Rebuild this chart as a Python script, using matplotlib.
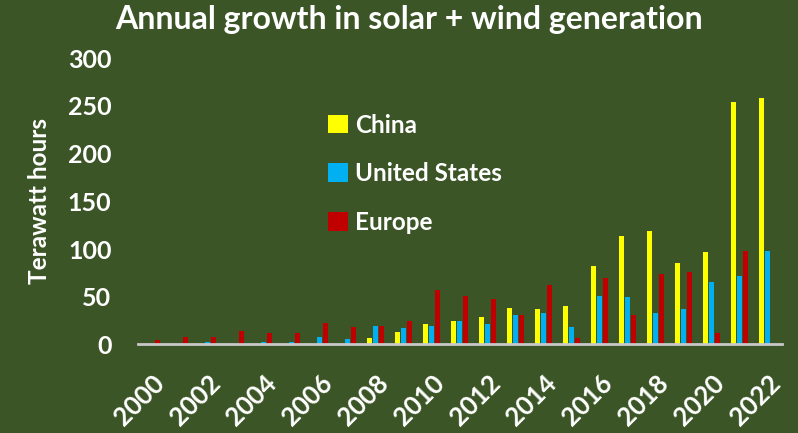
import numpy as np
import matplotlib.pyplot as plt

# annual growth in solar + wind generation, TWh
years = list(range(2000, 2023))
china = [0, 0, 0, 0, 0, 0, 0, 0, 6.5, 13, 21, 25, 29, 38, 37, 40,
         82, 114, 119, 85, 97, 254, 258]
usa = [0, 0, 2.6, 0, 2.6, 2.6, 8, 6, 19.4, 17.7, 19.4, 25, 21, 31, 33, 18,
       51, 50, 33, 37, 65, 72, 98.5]
europe = [4.5, 8, 8, 14, 12, 12, 23, 18, 19.4, 25, 57, 51, 47.5, 31, 62.5, 6.5,
          70, 31, 74, 76, 12, 98.5, 0]
series = ['China', 'United States', 'Europe']

BG = '#3b5526'
FONT = 'Lato'

fig = plt.figure(figsize=(7.98, 4.33), dpi=100, facecolor=BG)
ax = fig.add_axes([0.1727, 0.2044, 0.807, 0.661])
ax.set_facecolor(BG)

x = np.arange(len(years))
w = 0.19
ax.bar(x - 0.215, china, w, color='#ffff00', label=series[0])
ax.bar(x, usa, w, color='#00b0f0', label=series[1])
ax.bar(x + 0.215, europe, w, color='#c00000', label=series[2])

ax.set_xlim(-0.5, len(years) - 0.5)
ax.set_ylim(0, 300)
ax.set_yticks(range(0, 301, 50))
ax.set_xticks(x[::2])
ax.set_xticklabels([str(y) for y in years[::2]], rotation=45, ha='right',
                   va='top', rotation_mode='anchor')

for s in ['top', 'right', 'left']:
    ax.spines[s].set_visible(False)
ax.spines['bottom'].set_color('#c8c8c8')
ax.spines['bottom'].set_linewidth(2)

ax.tick_params(axis='both', length=0, colors='white')
ax.tick_params(axis='y', pad=19, labelsize=18)
ax.tick_params(axis='x', pad=19, labelsize=18.5)
for lab in ax.get_xticklabels() + ax.get_yticklabels():
    lab.set_fontfamily(FONT)
    lab.set_fontweight('bold')
    lab.set_color('white')

ax.set_ylabel('Terawatt hours', color='white', fontsize=17.5,
              fontfamily=FONT, fontweight='bold', labelpad=12)

leg = ax.legend(loc='upper left', bbox_to_anchor=(0.262, 0.883), frameon=False,
                handlelength=0.8, handleheight=0.8, handletextpad=0.3,
                labelspacing=1.05,
                prop={'family': FONT, 'weight': 'bold', 'size': 17.5})
for t in leg.get_texts():
    t.set_color('white')

fig.text(0.512, 0.955, 'Annual growth in solar + wind generation', color='white',
         fontsize=23, fontfamily=FONT, fontweight='bold', ha='center', va='center')

fig.savefig('out.png', dpi=100, facecolor=BG)
